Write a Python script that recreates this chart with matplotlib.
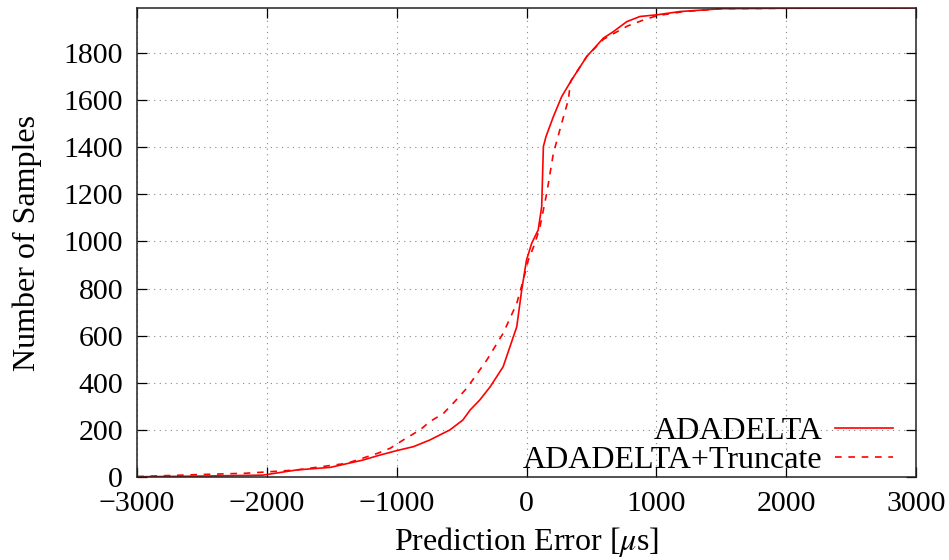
import matplotlib
matplotlib.use("Agg")
import matplotlib.pyplot as plt

# cumulative sample counts vs. prediction error (microseconds)
err_adadelta = [-3000, -2500, -2030, -1770, -1510, -1260, -1130, -1000, -870, -745,
                -590, -490, -435, -360, -280, -180, -75, -37, 0, 40,
                90, 117, 130, 150, 207, 271, 348, 464, 592, 670,
                772, 874, 1003, 1183, 1500, 2000, 3000]
cnt_adadelta = [1, 4, 8, 30, 41, 72, 93, 112, 129, 157,
                200, 242, 284, 327, 383, 468, 638, 794, 921, 992,
                1049, 1148, 1403, 1445, 1530, 1615, 1686, 1785, 1863, 1891,
                1933, 1955, 1962, 1976, 1988, 1990, 1991]

err_truncate = [-3000, -2540, -2160, -1770, -1385, -1150, -1050, -950, -820, -745,
                -640, -565, -460, -305, -180, -75, -25, 14, 65, 104,
                156, 207, 271, 322, 340, 464, 592, 680, 780, 900,
                1003, 1200, 1500, 2000, 3000]
cnt_truncate = [2, 10, 16, 30, 58, 100, 122, 157, 200, 235,
                270, 313, 377, 497, 610, 737, 836, 921, 992, 1063,
                1205, 1374, 1502, 1601, 1680, 1785, 1858, 1885, 1915, 1940,
                1958, 1975, 1988, 1990, 1991]

xticks = [-3000, -2000, -1000, 0, 1000, 2000, 3000]
yticks = list(range(0, 1801, 200))

plt.rcParams["font.family"] = ["Liberation Serif", "DejaVu Serif"]
plt.rcParams["mathtext.fontset"] = "stix"
plt.rcParams["axes.unicode_minus"] = True

fig = plt.figure(figsize=(9.49, 5.60), dpi=100)
ax = fig.add_axes([0.1444, 0.1482, 0.8208, 0.8375])

ax.plot(err_adadelta, cnt_adadelta, color="#ff0000", lw=1.2, label="ADADELTA")
ax.plot(err_truncate, cnt_truncate, color="#ff0000", lw=1.2, ls=(0, (4, 4)),
        label="ADADELTA+Truncate")

ax.set_xlim(-3000, 3000)
ax.set_ylim(0, 1991)
ax.set_xticks(xticks)
ax.set_yticks(yticks)
ax.tick_params(direction="in", length=7, width=0.9, top=True, right=True,
               labelsize=21.5)
ax.tick_params(axis="x", pad=10)
ax.tick_params(axis="y", pad=10)
ax.grid(True, ls=(0, (1, 4)), color="#888888", lw=0.8)
for sp in ax.spines.values():
    sp.set_linewidth(1.1)
    sp.set_color("#222222")

ax.set_xlabel(r"Prediction Error [$\mu$s]", fontsize=23, va="center")
ax.set_ylabel("Number of Samples", fontsize=23, va="center")
ax.xaxis.set_label_coords(0.5, -0.139)
ax.yaxis.set_label_coords(-0.141, 0.5)

ax.legend(loc="lower right", frameon=False, markerfirst=False, fontsize=23,
          handlelength=1.8, handletextpad=0.4, labelspacing=0.0,
          borderaxespad=0.0, borderpad=0.0, bbox_to_anchor=(0.970, 0.004))

fig.savefig("out.png", dpi=100)
